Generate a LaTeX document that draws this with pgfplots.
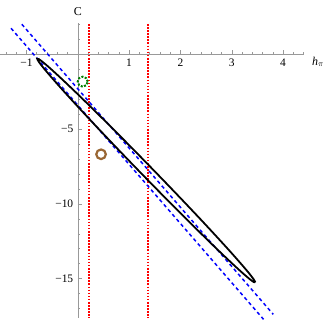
\documentclass[border=0pt]{standalone}
\usepackage{fontspec}
\setmainfont{Liberation Serif}
\usepackage{pgfplots}
\pgfplotsset{compat=1.18}
\definecolor{mbrown}{rgb}{0.6,0.4,0.2}
\definecolor{mgreen}{rgb}{0,0.5,0}
\definecolor{mred}{rgb}{1,0,0}
\definecolor{mblue}{rgb}{0,0,1}
\begin{document}
\begin{tikzpicture}[x=1bp,y=1bp]
\begin{axis}[
  scale only axis, width=304bp, height=295bp,
  xmin=-1.515, xmax=4.41, ymin=-17.63, ymax=2.09,
  axis lines=middle, axis line style={gray!80, line width=0.5pt, -},
  clip=false,
  tick align=inside,
  major tick length=4bp, minor tick length=2.5bp,
  every tick/.style={gray!80, line width=0.4pt},
  xtick={-1,1,2,3,4}, xticklabels={−1,1,2,3,4},
  minor xtick={-1.4,-1.2,...,4.41},
  ytick={-15,-10,-5}, yticklabels={−15,−10,−5},
  minor ytick={-17,-16,...,2},
  every tick label/.append style={font=\fontsize{11.5}{12}\selectfont},
  xticklabel style={yshift=-1bp},
  yticklabel style={xshift=-1bp},
]
\coordinate (ll) at (axis cs:-1.515,-18.10);
\coordinate (ur) at (axis cs:4.80,3.62);
% red dotted verticals
\addplot[draw=mred, line width=2pt, dash pattern=on 1.6pt off 1.5pt] coordinates {(1.377,2.02) (1.377,-17.63)};
\addplot[draw=mred, line width=2pt, dash pattern=on 1.6pt off 1.5pt] coordinates {(0.224,2.02) (0.224,-17.63)};
% blue dashed lines
\addplot[draw=mblue, line width=1.5pt, dash pattern=on 3.5pt off 3pt] coordinates {(-1.09,2.0) (3.81,-17.39)};
\addplot[draw=mblue, line width=1.5pt, dash pattern=on 3.5pt off 3pt] coordinates {(-1.30,1.73) (3.62,-17.72)};
% ellipse
\addplot[black, line width=1.8pt, smooth] coordinates {
(3.460,-15.250) (3.428,-15.045) (3.332,-14.618) (3.175,-13.984) (2.963,-13.161)
(2.701,-12.176) (2.398,-11.056) (2.062,-9.837) (1.704,-8.555) (1.335,-7.250)
(0.966,-5.961) (0.608,-4.727) (0.272,-3.586) (-0.031,-2.572) (-0.293,-1.717)
(-0.505,-1.046) (-0.662,-0.579) (-0.758,-0.332) (-0.790,-0.310) (-0.758,-0.516)
(-0.662,-0.942) (-0.505,-1.576) (-0.293,-2.399) (-0.031,-3.384) (0.272,-4.504)
(0.608,-5.723) (0.966,-7.005) (1.335,-8.310) (1.704,-9.599) (2.062,-10.833)
(2.398,-11.974) (2.701,-12.988) (2.963,-13.843) (3.175,-14.514) (3.332,-14.981)
(3.428,-15.229) (3.460,-15.250)};
% circles
\addplot[only marks, mark=o, mark size=5bp, mark options={mgreen, line width=2pt, dash pattern=on 2pt off 1.5pt}] coordinates {(0.097,-1.84)};
\addplot[only marks, mark=o, mark size=4.8bp, mark options={mbrown, line width=2.2pt, solid}] coordinates {(0.454,-6.69)};
\node at (axis cs:4.68,-0.52) {\fontsize{12}{13}\selectfont\textit{h}$_\pi$};
\node at (axis cs:0,2.82) {\fontsize{12}{13}\selectfont C};
\end{axis}
\pgfresetboundingbox
\path[use as bounding box] (ll) rectangle (ur);
\end{tikzpicture}
\end{document}
